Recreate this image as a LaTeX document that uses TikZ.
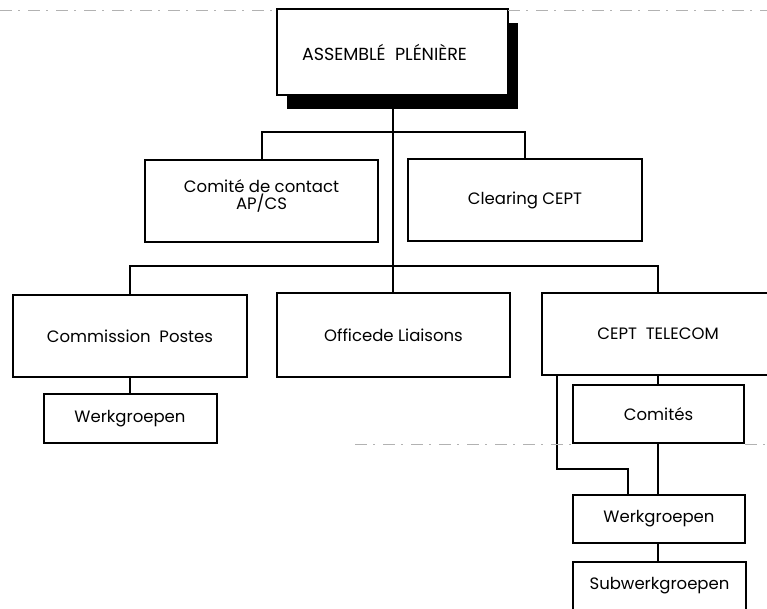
\documentclass[tikz,border=0pt]{standalone}
\usepackage{fontspec}
\setmainfont{Poppins}
\usetikzlibrary{shadows}

\begin{document}
\begin{tikzpicture}[x=1pt,y=-1pt,line width=2pt,
        box/.style={draw,rectangle,fill=white,inner sep=0pt,font=\fontsize{16.5}{18}\selectfont},
        scan/.style={gray!60,line width=0.7pt,dash pattern=on 12pt off 6pt on 2pt off 8pt}]
        \clip (0,0) rectangle (767,608);
        % top of the tree
        \node[box,minimum width=231pt,minimum height=86pt,font=\fontsize{17.5}{19}\selectfont,
              drop shadow={shadow xshift=10pt,shadow yshift=-14pt,fill=black,opacity=1}]
              (ap) at (392.5,52) {ASSEMBL\'E\ \ PL\'ENI\`ERE\hspace*{16pt}};
        \node[box,minimum width=233pt,minimum height=82pt,align=center] (comite) at (261.5,201) {Comit\'e\ de\ contact\\[-1pt]AP/CS\\[-6pt]};
        \node[box,minimum width=234pt,minimum height=82pt] (clearing) at (525,200) {Clearing CEPT};
        % second row
        \node[box,minimum width=234pt,minimum height=82pt] (postes) at (130,336) {Commission\ \ Postes};
        \node[box,minimum width=233pt,minimum height=84pt] (liaisons) at (393.5,335) {Officede Liaisons};
        \node[box,minimum width=232pt,minimum height=82pt] (telecom) at (658,334) {CEPT\ \ TELECOM};
        % lower boxes
        \node[box,minimum width=173pt,minimum height=49pt] (werkA) at (130,418.5) {Werkgroepen};
        \node[box,minimum width=171pt,minimum height=58pt] (comites) at (658.5,414) {Comit\'es};
        \node[box,minimum width=172pt,minimum height=48pt] (werkB) at (659,519) {Werkgroepen};
        \node[box,minimum width=173pt,minimum height=48pt] (subwerk) at (659.5,586) {Subwerkgroepen};
        % connectors
        \draw (ap.south) -- (ap.south |- liaisons.north);
        \draw (comite.north) -- ++(0,-27) -| (clearing.north);
        \draw (postes.north) -- ++(0,-28) -| (telecom.north);
        \draw (postes.south) -- (werkA.north);
        \draw (telecom.south) -- (telecom.south |- comites.north);
        \draw (comites.south -| telecom.south) -- (telecom.south |- werkB.north);
        \draw (werkB.south -| telecom.south) -- (telecom.south |- subwerk.north);
        \draw ([xshift=16pt]telecom.south west) -- ++(0,93) -| ([xshift=-31pt]werkB.north);
        % faint lines of the page
        \draw[scan] (0,10) -- (277,10);
        \draw[scan] (508,10) -- (767,10);
        \draw[scan] (355,444) -- (573,444);
        \draw[scan] (745,444) -- (767,444);
\end{tikzpicture}
\end{document}
